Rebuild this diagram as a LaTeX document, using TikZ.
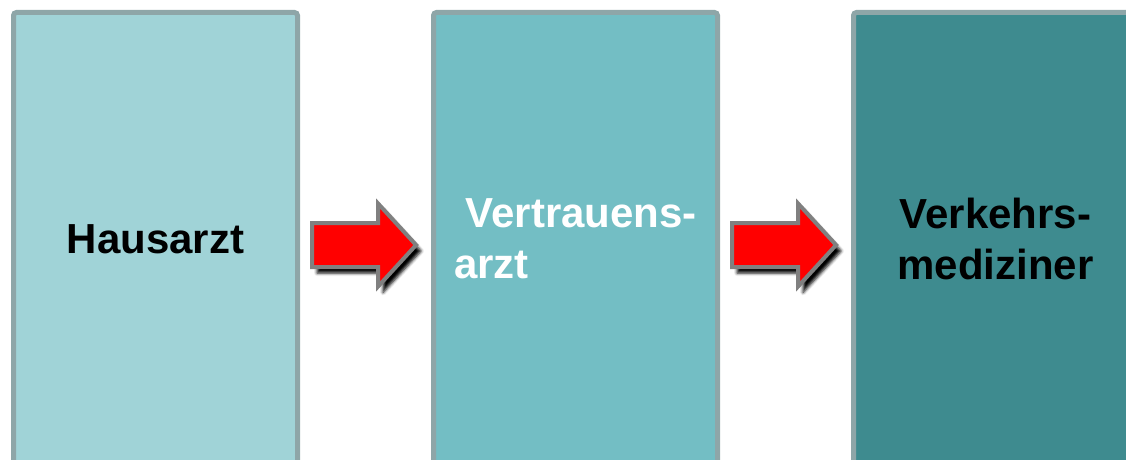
\documentclass[tikz,border=0pt]{standalone}
\usepackage{fontspec}
\setmainfont{Liberation Sans}
\usetikzlibrary{shapes.arrows,shadows.blur,positioning}
\definecolor{stageborder}{RGB}{142,166,168}
\definecolor{hausfill}{RGB}{160,211,215}
\definecolor{vertrauenfill}{RGB}{115,190,196}
\definecolor{verkehrfill}{RGB}{62,139,143}
\definecolor{pfeilrand}{RGB}{128,128,128}

\begin{document}
\begin{tikzpicture}[x=1pt, y=-1pt, node distance=420pt,
    stage/.style={draw=stageborder, line width=5pt, rounded corners=3pt,
        minimum width=284pt, minimum height=453pt,
        font=\bfseries\fontsize{42}{51}\selectfont},
    pfeil/.style={single arrow, fill=red, draw=pfeilrand, line width=4pt,
        minimum height=104pt, minimum width=79pt, inner xsep=0pt, inner ysep=20pt,
        single arrow head extend=19.5pt, single arrow tip angle=95,
        blur shadow={shadow xshift=5pt, shadow yshift=-6pt,
            shadow blur radius=3pt, shadow opacity=100}}]
    \useasboundingbox (0,0) rectangle (1126,460);
    \clip (0,0) rectangle (1126,460);
    \node (haus) [stage, fill=hausfill] at (155.5,239) {Hausarzt};
    \node (vertrauen) [stage, fill=vertrauenfill, text=white, align=left, right of=haus] {~Vertrauens-\\arzt};
    \node (verkehr) [stage, fill=verkehrfill, align=center, right of=vertrauen] {Verkehrs-\\mediziner};
    \node (pfeil1) [pfeil, right of=haus, xshift=-221.5pt, yshift=-6pt] {};
    \node (pfeil2) [pfeil, right of=vertrauen, xshift=-221.5pt, yshift=-6pt] {};
\end{tikzpicture}
\end{document}
